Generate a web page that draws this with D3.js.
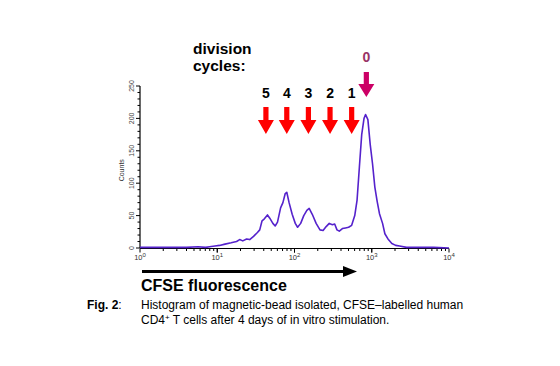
<!DOCTYPE html>
<html><head><meta charset="utf-8">
<script src="https://cdn.jsdelivr.net/npm/d3@7"></script>
<style>body{margin:0;background:#fff}svg{display:block}text{font-family:"Liberation Sans",Arial,sans-serif}</style>
</head><body>
<script>
// histogram: log10 CFSE fluorescence vs counts
const logCFSE = [0.00,0.30,0.60,0.75,0.85,0.90,0.97,1.03,1.10,1.18,1.25,1.29,1.33,1.38,1.42,1.47,1.52,1.55,1.58,1.61,1.65,1.68,1.72,1.75,1.78,1.82,1.85,1.88,1.90,1.93,1.97,2.01,2.04,2.08,2.12,2.16,2.19,2.23,2.28,2.33,2.37,2.41,2.45,2.49,2.52,2.55,2.58,2.62,2.66,2.70,2.74,2.78,2.81,2.84,2.87,2.90,2.92,2.95,2.98,3.01,3.04,3.07,3.10,3.14,3.17,3.21,3.26,3.31,3.36,3.45,3.60,3.80,4.00];
const counts  = [1,1,1,2,1,2,3,4,6,8,10,13,11,14,13,18,24,28,42,45,51,46,38,34,40,62,70,84,86,70,52,38,32,38,50,58,61,52,38,28,27,33,38,36,37,28,26,30,31,32,35,50,74,125,175,200,206,198,160,130,94,72,53,38,22,14,7,4,3,1,1,1,0];
const yTicks = [0,50,100,150,200,250];
const xTickExps = [0,1,2,3,4];
const cycleLabels = ["5","4","3","2","1"];
const cycleLogPos = [1.63,1.90,2.18,2.46,2.74];
const parentLabel = "0";
const parentLogPos = 2.93;

const W=560,H=366;
const svg=d3.select("body").append("svg").attr("width",W).attr("height",H);
const x=d3.scaleLog().domain([1,1e4]).range([140,449]);
const y=d3.scaleLinear().domain([0,250]).range([248,86]);

// y axis
const yAx=svg.append("g").attr("transform","translate(140,0)");
yAx.append("line").attr("y1",y(0)).attr("y2",y(250)).attr("stroke","#000").attr("stroke-width",1.2);
yAx.selectAll(".minor").data(d3.range(0,251,10)).join("line")
  .attr("x1",0).attr("x2",d=>d%50===0?-4:-2.5).attr("y1",d=>y(d)).attr("y2",d=>y(d)).attr("stroke","#000");
yAx.selectAll("text").data(yTicks).join("text")
  .attr("transform",d=>`translate(-6,${y(d)}) rotate(-90)`)
  .attr("text-anchor","middle").attr("font-size",7).attr("fill","#444").text(d=>d);
svg.append("text").attr("transform",`translate(124,${y(120)}) rotate(-90)`)
  .attr("text-anchor","middle").attr("font-size",7).attr("fill","#333").text("Counts");

// x axis
const xAx=svg.append("g").attr("transform",`translate(0,${y(0)+0.5})`);
xAx.append("line").attr("x1",x(1)).attr("x2",x(1e4)).attr("stroke","#000").attr("stroke-width",1.2);
const minorX=[];
for(let e=0;e<4;e++) for(let k=1;k<=10;k++) minorX.push(k*Math.pow(10,e));
xAx.selectAll(".mx").data(minorX).join("line")
  .attr("x1",d=>x(d)).attr("x2",d=>x(d)).attr("y1",0).attr("y2",d=>Math.abs(Math.log10(d)%1)<1e-9?4:2.5).attr("stroke","#000");
const xl=xAx.selectAll(".xl").data(xTickExps).join("text")
  .attr("x",d=>x(Math.pow(10,d))).attr("y",11).attr("text-anchor","middle").attr("font-size",7.5).attr("fill","#333");
xl.append("tspan").text("10");
xl.append("tspan").attr("dy",-3).attr("font-size",6).text(d=>d);

// histogram line
const pts=logCFSE.map((l,i)=>[Math.pow(10,l),counts[i]]);
svg.append("path").datum(pts)
  .attr("d",d3.line().x(d=>x(d[0])).y(d=>y(d[1])).curve(d3.curveLinear))
  .attr("fill","none").attr("stroke","#5522cc").attr("stroke-width",1.6).attr("stroke-linejoin","round");

// arrows
function arrow(cx,top,headTop,tip,color){
  const sw=2.6,hw=8;
  svg.append("path").attr("fill",color)
    .attr("d",`M${cx-sw},${top}L${cx+sw},${top}L${cx+sw},${headTop}L${cx+hw},${headTop}L${cx},${tip}L${cx-hw},${headTop}L${cx-sw},${headTop}Z`);
}
cycleLogPos.forEach((l,i)=>{
  const cx=x(Math.pow(10,l));
  arrow(cx,107,120,134,"#ff0000");
  svg.append("text").attr("x",cx).attr("y",98).attr("text-anchor","middle")
    .attr("font-size",14).attr("font-weight","bold").attr("fill","#000").text(cycleLabels[i]);
});
{
  const cx=x(Math.pow(10,parentLogPos));
  arrow(cx,72,84,97,"#cc0066");
  svg.append("text").attr("x",cx).attr("y",62).attr("text-anchor","middle")
    .attr("font-size",14).attr("font-weight","bold").attr("fill","#993366").text(parentLabel);
}
svg.append("text").attr("x",193).attr("y",54).attr("font-size",15.5).attr("font-weight","bold").text("division");
svg.append("text").attr("x",193).attr("y",71).attr("font-size",15.5).attr("font-weight","bold").text("cycles:");

// CFSE arrow
svg.append("line").attr("x1",142).attr("x2",345).attr("y1",271.5).attr("y2",271.5).attr("stroke","#000").attr("stroke-width",3.2);
svg.append("path").attr("d","M343,266L357,271.5L343,277Z").attr("fill","#000");
svg.append("text").attr("x",141).attr("y",291).attr("font-size",16).attr("font-weight","bold").text("CFSE fluorescence");

// caption
const cap=svg.append("text").attr("x",87).attr("y",309).attr("font-size",12);
cap.append("tspan").attr("font-weight","bold").text("Fig. 2");
cap.append("tspan").text(":");
svg.append("text").attr("x",141).attr("y",309).attr("font-size",12).text("Histogram of magnetic-bead isolated, CFSE–labelled human");
const l2=svg.append("text").attr("x",141).attr("y",324).attr("font-size",12);
l2.append("tspan").text("CD4");
l2.append("tspan").attr("dy",-4).attr("font-size",8).text("+");
l2.append("tspan").attr("dy",4).text(" T cells after 4 days of in vitro stimulation.");
</script>
</body></html>
